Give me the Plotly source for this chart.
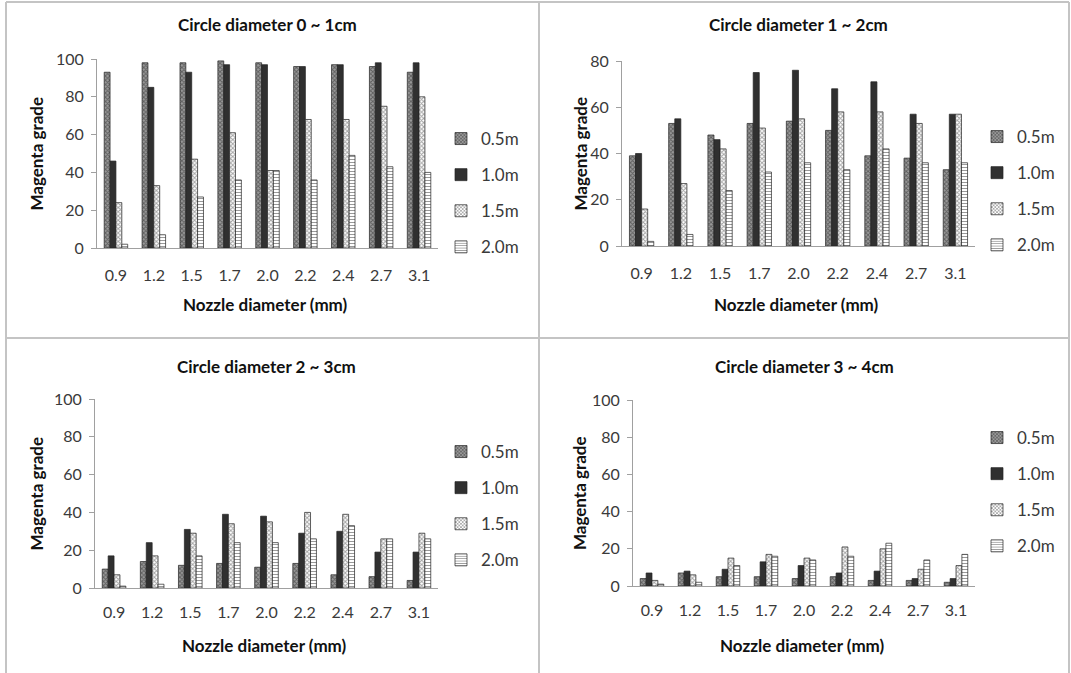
import plotly.graph_objects as go

categories = ["0.9", "1.2", "1.5", "1.7", "2.0", "2.2", "2.4", "2.7", "3.1"]
series_names = ["0.5m", "1.0m", "1.5m", "2.0m"]

# Panel 1: Circle diameter 0 ~ 1cm
p1_05 = [93, 98, 98, 99, 98, 96, 97, 96, 93]
p1_10 = [46, 85, 93, 97, 97, 96, 97, 98, 98]
p1_15 = [24, 33, 47, 61, 41, 68, 68, 75, 80]
p1_20 = [2, 7, 27, 36, 41, 36, 49, 43, 40]

# Panel 2: Circle diameter 1 ~ 2cm
p2_05 = [39, 53, 48, 53, 54, 50, 39, 38, 33]
p2_10 = [40, 55, 46, 75, 76, 68, 71, 57, 57]
p2_15 = [16, 27, 42, 51, 55, 58, 58, 53, 57]
p2_20 = [2, 5, 24, 32, 36, 33, 42, 36, 36]

# Panel 3: Circle diameter 2 ~ 3cm
p3_05 = [10, 14, 12, 13, 11, 13, 7, 6, 4]
p3_10 = [17, 24, 31, 39, 38, 29, 30, 19, 19]
p3_15 = [7, 17, 29, 34, 35, 40, 39, 26, 29]
p3_20 = [1, 2, 17, 24, 24, 26, 33, 26, 26]

# Panel 4: Circle diameter 3 ~ 4cm
p4_05 = [4, 7, 5, 5, 4, 5, 3, 3, 2]
p4_10 = [7, 8, 9, 13, 11, 7, 8, 4, 4]
p4_15 = [3, 6, 15, 17, 15, 21, 20, 9, 11]
p4_20 = [1, 2, 11, 16, 14, 16, 23, 14, 17]

titles = ["Circle diameter 0 ~ 1cm", "Circle diameter 1 ~ 2cm",
          "Circle diameter 2 ~ 3cm", "Circle diameter 3 ~ 4cm"]
panels = [[p1_05, p1_10, p1_15, p1_20], [p2_05, p2_10, p2_15, p2_20],
          [p3_05, p3_10, p3_15, p3_20], [p4_05, p4_10, p4_15, p4_20]]
y_max = [100, 80, 100, 100]

W, H = 1071, 673
def px(x):
    return x / W
def py(y):
    return 1 - y / H

# plot area pixel boxes: (left, right, top, bottom)
boxes = [(97, 438, 59, 248), (622, 975, 61, 246), (95, 438, 399, 588), (633, 975, 400, 586)]
legend_pos = [(441, 121), (977, 119), (441, 434), (977, 420)]

styles = [
    dict(color="#8a8a8a", pattern=dict(shape="x", fgcolor="#222222", bgcolor="#9a9a9a", size=3, solidity=0.5)),
    dict(color="#303030"),
    dict(color="#ffffff", pattern=dict(shape="x", fgcolor="#4a4a4a", bgcolor="#ffffff", size=3, solidity=0.55)),
    dict(color="#ffffff", pattern=dict(shape="-", fgcolor="#333333", bgcolor="#ffffff", size=3, solidity=0.35)),
]

FONT = "Lato, 'Open Sans', sans-serif"
TXT = "#3a3a3a"
fig = go.Figure()
layout = {}
annotations = []
for i in range(4):
    xa = "x" if i == 0 else f"x{i+1}"
    ya = "y" if i == 0 else f"y{i+1}"
    lg = "legend" if i == 0 else f"legend{i+1}"
    for s in range(4):
        st = styles[s]
        marker = dict(color=st["color"], line=dict(color="#222222", width=0.7))
        if "pattern" in st:
            marker["pattern"] = st["pattern"]
        fig.add_trace(go.Bar(
            x=categories, y=panels[i][s], name=series_names[s],
            xaxis=xa, yaxis=ya, legend=lg, marker=marker,
            legendgroup=f"{i}_{s}",
        ))
    l, r, t, b = boxes[i]
    xkey = "xaxis" if i == 0 else f"xaxis{i+1}"
    ykey = "yaxis" if i == 0 else f"yaxis{i+1}"
    layout[xkey] = dict(domain=[px(l), px(r)], anchor=ya, showline=True, linecolor="#a0a0a0",
                        linewidth=1, ticks="", showgrid=False, type="category",
                        ticklabelstandoff=13 if i < 2 else 10,
                        tickfont=dict(family=FONT, size=16, color=TXT))
    layout[ykey] = dict(domain=[py(b), py(t)], anchor=xa, range=[0, y_max[i]], dtick=20,
                        showline=True, linecolor="#a0a0a0", linewidth=1, ticks="outside",
                        ticklen=5, tickcolor="#a0a0a0", showgrid=False, zeroline=False,
                        ticklabelstandoff=4,
                        tickfont=dict(family=FONT, size=16, color=TXT))
    lx, ly = legend_pos[i]
    layout[lg] = dict(x=px(lx), y=py(ly), xanchor="left", yanchor="top",
                      font=dict(family=FONT, size=17, color=TXT),
                      bgcolor="rgba(0,0,0,0)", traceorder="grouped", tracegroupgap=11,
                      itemwidth=30)
    cx = (l + r) / 2
    title_y = 25 if i < 2 else 367
    annotations.append(dict(x=px(cx), y=py(title_y), xref="paper", yref="paper",
                            xanchor="center", yanchor="middle",
                            text=f"<b>{titles[i]}</b>", showarrow=False,
                            font=dict(family=FONT, size=17, color="#111111")))
    xt_y = 305 if i < 2 else 645
    annotations.append(dict(x=px(cx - 2), y=py(xt_y), xref="paper", yref="paper",
                            xanchor="center", yanchor="middle",
                            text="<b>Nozzle diameter (mm)</b>", showarrow=False,
                            font=dict(family=FONT, size=17, color="#111111")))
    yt_x = 36 if i % 2 == 0 else 580
    annotations.append(dict(x=px(yt_x), y=py((t + b) / 2), xref="paper", yref="paper",
                            xanchor="center", yanchor="middle",
                            text="<b>Magenta grade</b>", showarrow=False, textangle=-90,
                            font=dict(family=FONT, size=17, color="#111111")))

shapes = []
bc = "#c4c4c4"
for (x0, y0, x1, y1) in [(6, 2, 1069, 2), (6, 2, 6, 673), (1069, 2, 1069, 673),
                         (6, 338, 1069, 338), (539, 2, 539, 673)]:
    shapes.append(dict(type="line", xref="paper", yref="paper", x0=px(x0), y0=py(y0),
                       x1=px(x1), y1=py(y1), line=dict(color=bc, width=2)))

fig.update_layout(
    width=W, height=H, margin=dict(l=0, r=0, t=0, b=0, autoexpand=False),
    paper_bgcolor="white", plot_bgcolor="white",
    barmode="group", bargap=0.38, bargroupgap=0,
    annotations=annotations, shapes=shapes,
    **layout,
)
fig.write_html("out.html")
